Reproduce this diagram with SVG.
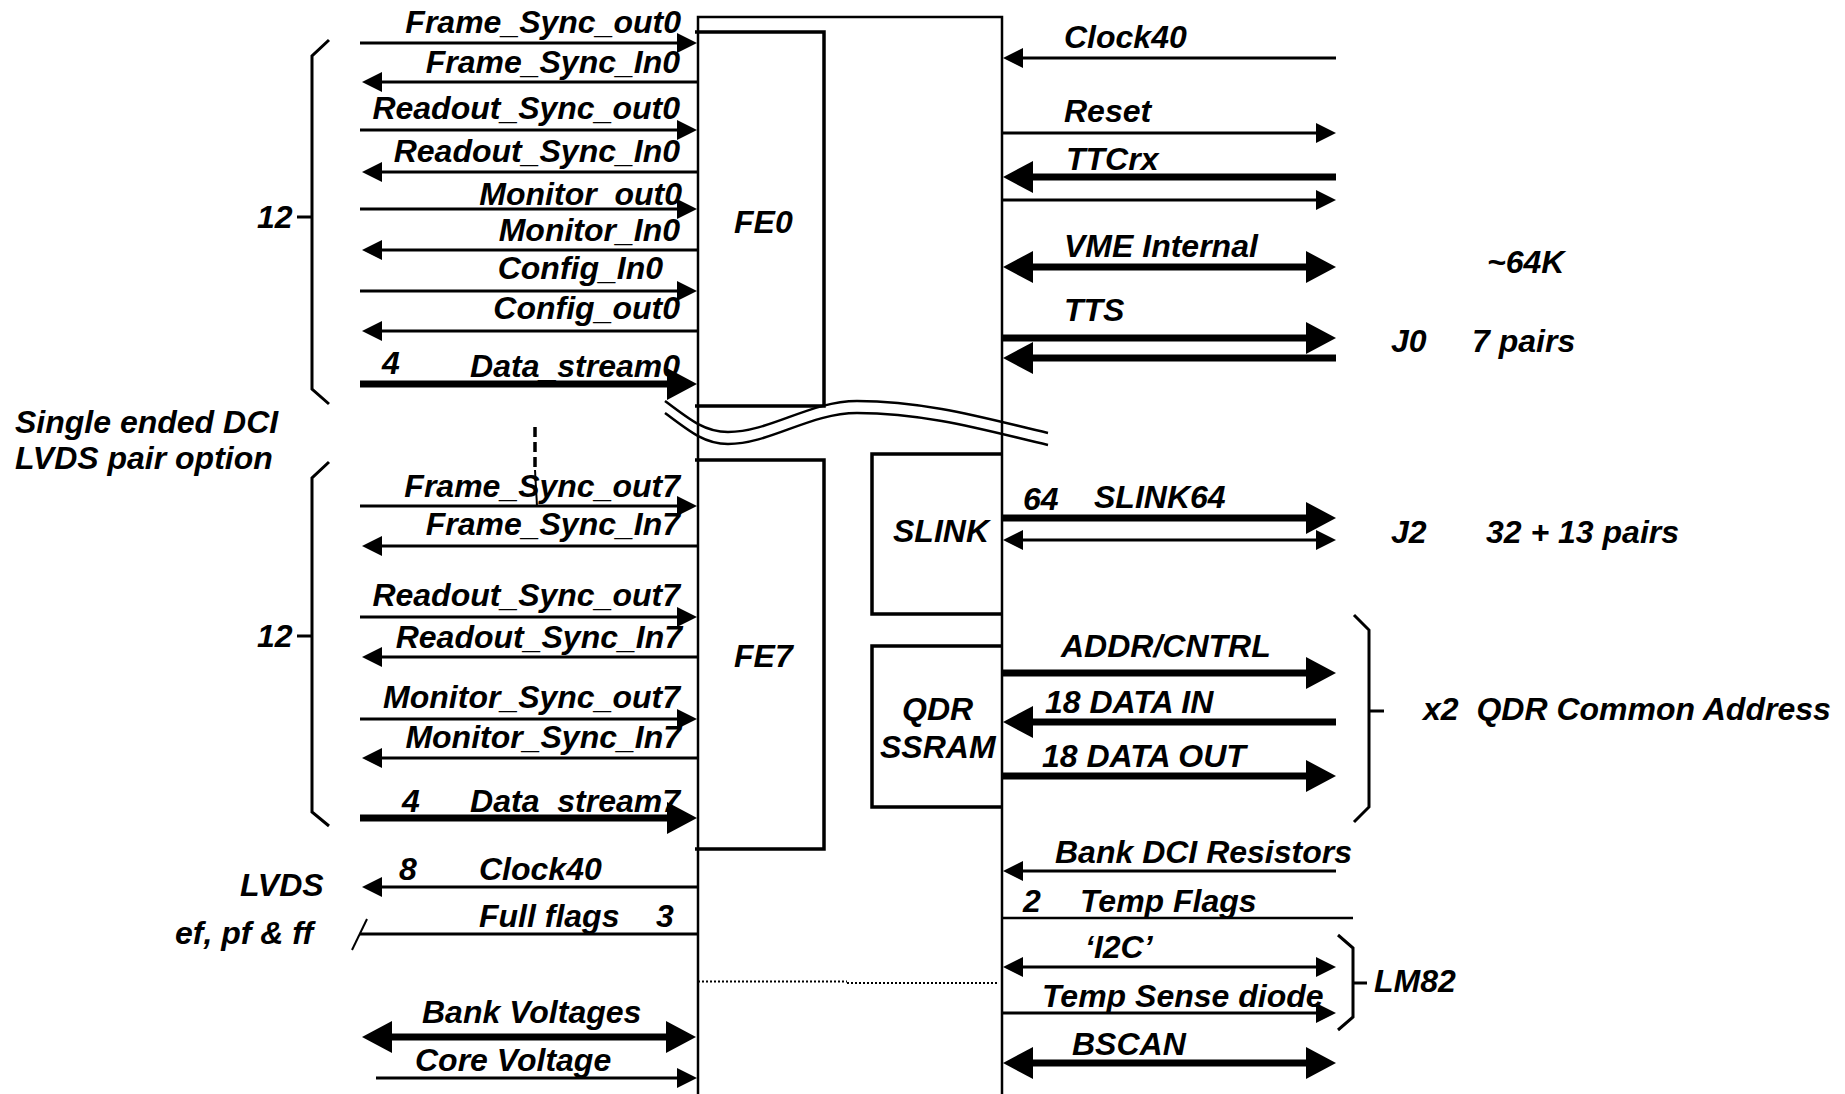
<svg xmlns="http://www.w3.org/2000/svg" width="1845" height="1094" viewBox="0 0 1845 1094">
<style>
.t{font-family:"Liberation Sans",Arial,sans-serif;font-weight:bold;font-style:italic;font-size:32px;fill:#000}
.e{text-anchor:end}
.l{stroke:#000;stroke-width:3;fill:none}
.k{stroke:#000;stroke-width:7;fill:none}
.b{stroke:#000;stroke-width:3.5;fill:none}
.o{stroke:#000;stroke-width:2.5;fill:none}
.ah{marker-end:url(#h)}
.ahs{marker-start:url(#h)}
.AH{marker-end:url(#H)}
.AHs{marker-start:url(#H)}
</style>
<defs>
<marker id="h" markerUnits="userSpaceOnUse" viewBox="0 -11 21 22" markerWidth="21" markerHeight="22" refX="1" refY="0" orient="auto-start-reverse"><path d="M0,-10 L20,0 L0,10 z" fill="#000"/></marker>
<marker id="H" markerUnits="userSpaceOnUse" viewBox="0 -17 31 34" markerWidth="31" markerHeight="34" refX="1" refY="0" orient="auto-start-reverse"><path d="M0,-16 L30,0 L0,16 z" fill="#000"/></marker>
</defs>
<rect width="1845" height="1094" fill="#fff"/>

<g id="chip">
<path class="o" d="M698,1094 V17 H1002 V1094"/>
</g>
<g id="break">
<path class="o" d="M665,401 C690,420 705,432 728,432 C770,432 810,401 857,401 C930,401 995,421 1048,433"/>
<path class="o" d="M665,413 C690,432 705,444 728,444 C770,444 810,413 857,413 C930,413 995,433 1048,445"/>
</g>
<g id="FE0">
<path class="b" d="M695,32 H824 V406 H695"/>
<text class="t" x="734" y="233">FE0</text>
</g>
<g id="FE7">
<path class="b" d="M695,460 H824 V849 H695"/>
<text class="t" x="734" y="667">FE7</text>
</g>
<g id="SLINK">
<path class="b" d="M1001,454 H872 V614 H1001"/>
<text class="t" x="893" y="542">SLINK</text>
</g>
<g id="QDR">
<path class="b" d="M1001,646 H872 V807 H1001"/>
<text class="t" x="902" y="720">QDR</text>
<text class="t" x="880" y="758">SSRAM</text>
</g>
<g id="dotted">
<path d="M698,981.5 H847" stroke="#000" stroke-width="2" stroke-dasharray="2,2" fill="none"/>
<path d="M847,983 H999" stroke="#000" stroke-width="2" stroke-dasharray="2,2" fill="none"/>
</g>

<g id="braces">
<path class="l" d="M329,40 L312,56 V389 L329,404 M312,217 H297"/>
<path class="l" d="M329,462 L312,478 V812 L329,826 M312,636 H297"/>
<path class="l" d="M1354,615 L1369,630 V807 L1354,822 M1369,711 H1384"/>
<path class="l" d="M1338,935 L1353,948 V1017 L1338,1030 M1353,983 H1367"/>
</g>

<g id="connectors">
<path class="l ah" d="M360,43 H678"/>
<path class="l ah" d="M698,82 H381"/>
<path class="l ah" d="M360,130 H678"/>
<path class="l ah" d="M698,172 H381"/>
<path class="l ah" d="M360,209 H678"/>
<path class="l ah" d="M698,250 H381"/>
<path class="l ah" d="M360,291 H678"/>
<path class="l ah" d="M698,331 H381"/>
<path class="k AH" d="M360,384 H668"/>
<path class="l ah" d="M360,506 H678"/>
<path class="l ah" d="M698,546 H381"/>
<path class="l ah" d="M360,617 H678"/>
<path class="l ah" d="M698,657 H381"/>
<path class="l ah" d="M360,719 H678"/>
<path class="l ah" d="M698,758 H381"/>
<path class="k AH" d="M360,818 H668"/>
<path d="M535,427 V470" stroke="#000" stroke-width="3.5" stroke-dasharray="10,5" fill="none"/>
<path d="M535,470 L537,506" stroke="#000" stroke-width="2" fill="none"/>
<path class="l ah" d="M698,887 H381"/>
<path class="l" d="M360,934 H698"/>
<path d="M352,950 L367,919" stroke="#000" stroke-width="2" fill="none"/>
<path class="k AH AHs" d="M391,1037 H667"/>
<path class="l ah" d="M376,1078 H678"/>
<path class="l ah" d="M1336,58 H1022"/>
<path class="l ah" d="M1001,133 H1317"/>
<path class="k AH" d="M1336,177 H1032"/>
<path class="l ah" d="M1001,200 H1317"/>
<path class="k AH AHs" d="M1032,267 H1307"/>
<path class="k AH" d="M1001,338 H1307"/>
<path class="k AH" d="M1336,358 H1032"/>
<path class="k AH" d="M1001,518 H1307"/>
<path class="l ah ahs" d="M1022,540 H1317"/>
<path class="k AH" d="M1001,673 H1307"/>
<path class="k AH" d="M1336,722 H1032"/>
<path class="k AH" d="M1001,776 H1307"/>
<path class="l ah" d="M1336,871 H1022"/>
<path class="o" d="M1001,918 H1353"/>
<path class="l ah ahs" d="M1022,967 H1317"/>
<path class="l ah" d="M1001,1013 H1317"/>
<path class="k AH AHs" d="M1032,1063 H1307"/>
</g>

<g id="labels">
<text class="t e" x="681" y="33">Frame_Sync_out0</text>
<text class="t e" x="680" y="73">Frame_Sync_In0</text>
<text class="t e" x="680" y="119">Readout_Sync_out0</text>
<text class="t e" x="680" y="162">Readout_Sync_In0</text>
<text class="t e" x="682" y="205">Monitor_out0</text>
<text class="t e" x="680" y="241">Monitor_In0</text>
<text class="t e" x="663" y="279">Config_In0</text>
<text class="t e" x="680" y="319">Config_out0</text>
<text class="t" x="382" y="374">4</text>
<text class="t e" x="680" y="377">Data_stream0</text>

<text class="t e" x="680" y="497">Frame_Sync_out7</text>
<text class="t e" x="680" y="535">Frame_Sync_In7</text>
<text class="t e" x="680" y="606">Readout_Sync_out7</text>
<text class="t e" x="682" y="648">Readout_Sync_In7</text>
<text class="t e" x="680" y="708">Monitor_Sync_out7</text>
<text class="t e" x="681" y="748">Monitor_Sync_In7</text>
<text class="t" x="402" y="812">4</text>
<text class="t e" x="680" y="812">Data_stream7</text>

<text class="t" x="257" y="228">12</text>
<text class="t" x="257" y="647">12</text>
<text class="t" x="15" y="433">Single ended DCI</text>
<text class="t" x="15" y="469">LVDS pair option</text>
<text class="t" x="240" y="896">LVDS</text>
<text class="t" x="175" y="944">ef, pf &amp; ff</text>
<text class="t" x="399" y="880">8</text>
<text class="t" x="479" y="880">Clock40</text>
<text class="t" x="479" y="927">Full flags</text>
<text class="t" x="656" y="927">3</text>
<text class="t" x="422" y="1023">Bank Voltages</text>
<text class="t" x="415" y="1071">Core Voltage</text>

<text class="t" x="1064" y="48">Clock40</text>
<text class="t" x="1064" y="122">Reset</text>
<text class="t" x="1066" y="170">TTCrx</text>
<text class="t" x="1064" y="257">VME Internal</text>
<text class="t" x="1487" y="273">~64K</text>
<text class="t" x="1064" y="321">TTS</text>
<text class="t" x="1391" y="352">J0</text>
<text class="t" x="1472" y="352">7 pairs</text>
<text class="t" x="1023" y="510">64</text>
<text class="t" x="1094" y="508">SLINK64</text>
<text class="t" x="1391" y="543">J2</text>
<text class="t" x="1486" y="543">32 + 13 pairs</text>
<text class="t" x="1061" y="657">ADDR/CNTRL</text>
<text class="t" x="1045" y="713">18 DATA IN</text>
<text class="t" x="1042" y="767">18 DATA OUT</text>
<text class="t" x="1423" y="720" xml:space="preserve">x2  QDR Common Address</text>
<text class="t" x="1055" y="863">Bank DCI Resistors</text>
<text class="t" x="1023" y="912">2</text>
<text class="t" x="1080" y="912">Temp Flags</text>
<text class="t" x="1085" y="958">‘I2C’</text>
<text class="t" x="1042" y="1007">Temp Sense diode</text>
<text class="t" x="1374" y="992">LM82</text>
<text class="t" x="1072" y="1055">BSCAN</text>
</g>
</svg>
